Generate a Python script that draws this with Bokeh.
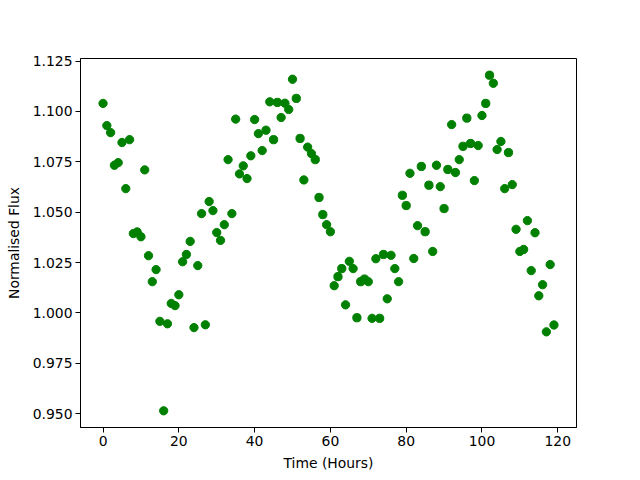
from bokeh.plotting import figure
from bokeh.models import Range1d, FixedTicker, NumeralTickFormatter, ColumnDataSource
from bokeh.embed import file_html
from bokeh.resources import INLINE

time_hours = list(range(120))
flux = [
    1.104, 1.093, 1.0895, 1.0733, 1.0746, 1.0846, 1.0617, 1.086, 1.0394, 1.0402,
    1.0378, 1.071, 1.0284, 1.0155, 1.0215, 0.9958, 0.9514, 0.9946, 1.0047, 1.0036,
    1.009, 1.0254, 1.029, 1.0355, 0.9927, 1.0235, 1.0493, 0.9941, 1.0553, 1.0508,
    1.0399, 1.036, 1.0438, 1.0761, 1.0493, 1.0962, 1.069, 1.073, 1.0667, 1.078,
    1.096, 1.089, 1.0806, 1.0907, 1.1048, 1.086, 1.1045, 1.097, 1.1041, 1.101,
    1.116, 1.1065, 1.0866, 1.066, 1.0823, 1.0791, 1.0761, 1.0573, 1.0488, 1.0438,
    1.0403, 1.0135, 1.018, 1.022, 1.004, 1.0256, 1.022, 0.9976, 1.0155, 1.0168,
    1.0155, 0.9973, 1.0269, 0.9973, 1.029, 1.007, 1.0286, 1.022, 1.0155, 1.0584,
    1.0533, 1.0693, 1.027, 1.0433, 1.0727, 1.0403, 1.0634, 1.0305, 1.0733, 1.0627,
    1.0518, 1.0712, 1.0935, 1.0697, 1.0761, 1.0827, 1.0967, 1.0841, 1.0657, 1.0831,
    1.098, 1.104, 1.118, 1.114, 1.0811, 1.0851, 1.0617, 1.0796, 1.0637, 1.0415,
    1.0305, 1.0315, 1.0458, 1.021, 1.0398, 1.0085, 1.014, 0.9906, 1.024, 0.994,
]
x_ticks = [0, 20, 40, 60, 80, 100, 120]
y_ticks = [0.950, 0.975, 1.000, 1.025, 1.050, 1.075, 1.100, 1.125]

src = ColumnDataSource(dict(t=time_hours, f=flux))

p = figure(width=640, height=480, output_backend="svg", toolbar_location=None,
           x_range=Range1d(-5.95, 124.95), y_range=Range1d(0.9431, 1.1263),
           min_border_left=80, min_border_right=64, min_border_top=58, min_border_bottom=53)
p.scatter("t", "f", source=src, size=8.3, color="#008000", line_color="#008000")

p.xgrid.visible = False
p.ygrid.visible = False
p.outline_line_color = "black"
p.outline_line_alpha = 1.0
p.outline_line_width = 1

p.xaxis.ticker = FixedTicker(ticks=x_ticks)
p.yaxis.ticker = FixedTicker(ticks=y_ticks)
p.yaxis.formatter = NumeralTickFormatter(format="0.000")
p.xaxis.axis_label = "Time (Hours)"
p.yaxis.axis_label = "Normalised Flux"

for ax in (p.xaxis, p.yaxis):
    ax.major_tick_in = 0
    ax.major_tick_out = 5
    ax.minor_tick_in = 0
    ax.minor_tick_out = 0
    ax.axis_line_color = "black"
    ax.major_tick_line_color = "black"
    ax.major_label_text_font = "DejaVu Sans"
    ax.major_label_text_font_size = "13.9px"
    ax.major_label_text_color = "black"
    ax.axis_label_text_font = "DejaVu Sans"
    ax.axis_label_text_font_size = "13.9px"
    ax.axis_label_text_font_style = "normal"
    ax.axis_label_text_color = "black"
    ax.major_label_standoff = 3

p.yaxis.axis_label_standoff = 8
p.xaxis.axis_label_standoff = 6

open("out.html", "w").write(file_html(p, INLINE))
